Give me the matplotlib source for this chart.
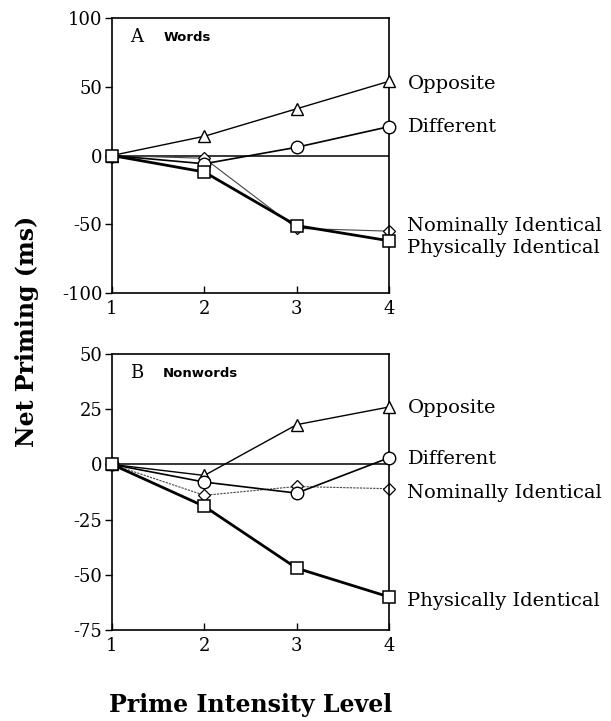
import matplotlib.pyplot as plt

levels = [1, 2, 3, 4]

# panel A: words
words_opposite = [0, 14, 34, 54]
words_different = [0, -6, 6, 21]
words_nominal = [0, -2, -53, -55]
words_physical = [0, -12, -51, -62]

# panel B: nonwords
non_opposite = [0, -5, 18, 26]
non_different = [0, -8, -13, 3]
non_nominal = [0, -14, -10, -11]
non_physical = [0, -19, -47, -60]

serif = "DejaVu Serif"
plt.rcParams["font.family"] = serif
plt.rcParams["axes.unicode_minus"] = False

fig = plt.figure(figsize=(6.11, 7.21), dpi=100)
axA = fig.add_axes([0.1833, 0.5936, 0.4534, 0.3814])
axB = fig.add_axes([0.1833, 0.1262, 0.4534, 0.3828])


def draw(ax, opp, diff, nom, phys, ylim, yticks, tag, name, label_y, nom_style):
    ax.axhline(0, color="black", lw=1.1, zorder=1)
    ax.plot(levels, opp, color="black", lw=1.0, marker="^", ms=9,
            mfc="white", mec="black", mew=1.0, zorder=3, clip_on=False)
    ax.plot(levels, diff, color="black", lw=1.2, marker="o", ms=9,
            mfc="white", mec="black", mew=1.0, zorder=3, clip_on=False)
    ax.plot(levels, nom, color="#444444", lw=0.8, ls=nom_style, marker="D", ms=6,
            mfc="white", mec="black", mew=0.9, zorder=2, clip_on=False)
    ax.plot(levels, phys, color="black", lw=2.0, marker="s", ms=9,
            mfc="white", mec="black", mew=1.1, zorder=4, clip_on=False)
    ax.set_xlim(1, 4)
    ax.set_ylim(*ylim)
    ax.set_xticks(levels)
    ax.set_yticks(yticks)
    ax.tick_params(axis="y", direction="out", length=5, width=1, labelsize=13, pad=2)
    ax.tick_params(axis="x", direction="in", length=5, width=1, labelsize=13, pad=5)
    for s in ax.spines.values():
        s.set_linewidth(1.2)
    ax.text(0.065, 0.93, tag, transform=ax.transAxes, fontsize=13, va="center")
    ax.text(0.185, 0.93, name, transform=ax.transAxes, fontsize=9.5,
            fontweight="bold", family="DejaVu Sans", va="center")
    names = ["Opposite", "Different", "Nominally Identical", "Physically Identical"]
    for n, y in zip(names, label_y):
        ax.text(4.2, y, n, fontsize=14, va="center", ha="left", clip_on=False)


draw(axA, words_opposite, words_different, words_nominal, words_physical,
     (-100, 100), [-100, -50, 0, 50, 100], "A", "Words", [52, 21, -51, -67], "-")
draw(axB, non_opposite, non_different, non_nominal, non_physical,
     (-75, 50), [-75, -50, -25, 0, 25, 50], "B", "Nonwords", [25.5, 2.5, -13, -62],
     (0, (2, 1)))

fig.text(0.045, 0.54, "Net Priming (ms)", rotation=90, fontsize=17,
         fontweight="bold", ha="center", va="center")
fig.text(0.41, 0.022, "Prime Intensity Level", fontsize=17,
         fontweight="bold", ha="center", va="center")

fig.savefig("out.png", dpi=100)
